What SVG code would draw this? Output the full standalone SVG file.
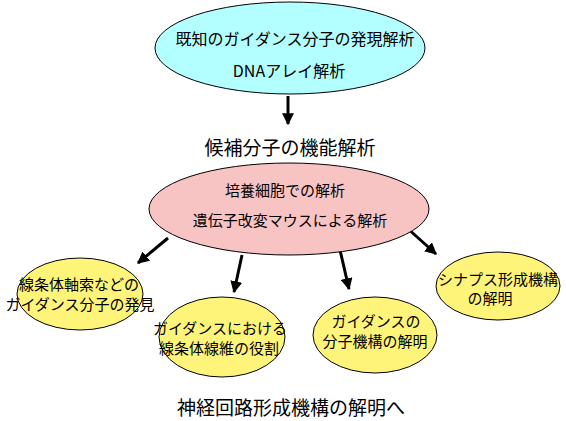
<svg xmlns="http://www.w3.org/2000/svg" width="566" height="421" viewBox="0 0 566 421">
<defs>
<marker id="ah" viewBox="0 0 10 10" refX="9" refY="5" markerWidth="4" markerHeight="4" orient="auto" markerUnits="strokeWidth">
<path d="M0,0 L10,5 L0,10 z" fill="#000"/>
</marker>
<style>
text{font-family:"Noto Sans CJK JP","Noto Sans",sans-serif;fill:#000;text-anchor:middle;dominant-baseline:central}
.e{stroke:#000;stroke-width:1}
.c{fill:#b3ffff}
.p{fill:#f8c3c3}
.y{fill:#fff47a}
.a{stroke:#000;stroke-width:3;fill:none;marker-end:url(#ah)}
.t15{font-size:15px}
.t16{font-size:16px}
.t19{font-size:19px}
</style>
</defs>
<rect width="566" height="421" fill="#fff"/>
<g id="connectors">
<line class="a" x1="288" y1="96" x2="288" y2="124"/>
<line class="a" x1="168" y1="238" x2="138" y2="263"/>
<line class="a" x1="242" y1="255" x2="234" y2="292"/>
<line class="a" x1="340" y1="250" x2="349" y2="289"/>
<line class="a" x1="406" y1="227" x2="436" y2="254"/>
</g>
<g id="n-top">
<ellipse class="e c" cx="290" cy="48" rx="135" ry="46"/>
<text class="t16" x="295" y="38">既知のガイダンス分子の発現解析</text>
<text class="t16" x="289" y="70">DNAアレイ解析</text>
</g>
<g id="n-label">
<text class="t19" x="290" y="146">候補分子の機能解析</text>
</g>
<g id="n-pink">
<ellipse class="e p" cx="289" cy="209" rx="140" ry="46"/>
<text class="t15" x="285" y="189">培養細胞での解析</text>
<text class="t15" x="290" y="219">遺伝子改変マウスによる解析</text>
</g>
<g id="n-y1">
<ellipse class="e y" cx="80" cy="294" rx="63" ry="36"/>
<text class="t15" x="79" y="283">線条体軸索などの</text>
<text class="t15" x="80" y="303">ガイダンス分子の発見</text>
</g>
<g id="n-y2">
<ellipse class="e y" cx="222" cy="337" rx="63" ry="40"/>
<text class="t15" x="220" y="327">ガイダンスにおける</text>
<text class="t15" x="219" y="347">線条体線維の役割</text>
</g>
<g id="n-y3">
<ellipse class="e y" cx="375" cy="335" rx="62" ry="38"/>
<text class="t15" x="376" y="320">ガイダンスの</text>
<text class="t15" x="375" y="340">分子機構の解明</text>
</g>
<g id="n-y4">
<ellipse class="e y" cx="498" cy="286" rx="62" ry="34"/>
<text class="t15" x="498" y="278">シナプス形成機構</text>
<text class="t15" x="490" y="297">の解明</text>
</g>
<g id="n-bottom">
<text class="t19" x="291" y="406">神経回路形成機構の解明へ</text>
</g>
</svg>
